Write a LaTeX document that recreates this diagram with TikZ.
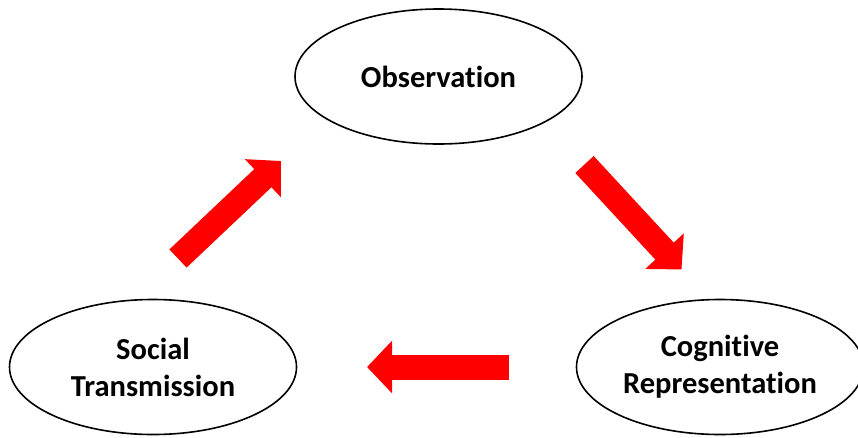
\documentclass[tikz,border=0pt]{standalone}
\usepackage{fontspec}
\setmainfont{Carlito}[Ligatures=NoCommon]
\usetikzlibrary{shapes.geometric,arrows.meta}
\definecolor{arrowred}{RGB}{255,0,0}
\tikzset{
  bubble/.style={ellipse, draw=black, line width=1.6pt, inner sep=0pt,
    minimum width=287pt, minimum height=135pt, align=center,
    font=\fontsize{30.5}{37}\selectfont\bfseries},
  blockarrow/.style={draw=arrowred, line width=25pt,
    -{Triangle[length=25pt, width=51pt]}}
}
\begin{document}
\begin{tikzpicture}[x=1pt,y=-1pt]
\useasboundingbox (0,0) rectangle (858,437);
\node[bubble] (obs) at (438.5,76.5) {Observation};
\node[bubble] (soc) at (153,367) {Social\\Transmission};
\node[bubble] (cog) at (720,367) {Cognitive\\Representation};
\coordinate (a1s) at (178,258.5);
\coordinate (a1e) at (281,161);
\coordinate (a2s) at (584.5,164.5);
\coordinate (a2e) at (681.5,269.5);
\coordinate (a3s) at (509,367);
\coordinate (a3e) at (367,367);
\draw[blockarrow] (a1s) -- (a1e);
\draw[blockarrow] (a2s) -- (a2e);
\draw[blockarrow] (a3s) -- (a3e);
\end{tikzpicture}
\end{document}
